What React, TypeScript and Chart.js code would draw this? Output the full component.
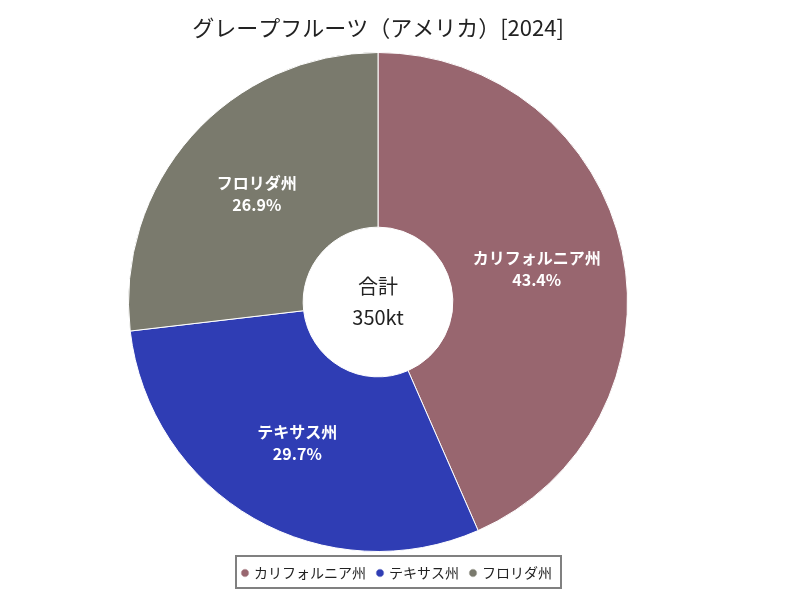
import React, { useEffect, useRef } from "react";
import { Chart, registerables } from "chart.js";

Chart.register(...registerables);

const chartTitle = "グレープフルーツ（アメリカ）[2024]";
const categories = ["カリフォルニア州", "テキサス州", "フロリダ州"];
const values = [152, 104, 94];
const colors = ["#98666F", "#2F3DB4", "#7A7A6D"];
const centerLabel = "合計";
const centerValue = "350kt";

const FONT = '"Noto Sans CJK JP", "Noto Sans", sans-serif';

export default function App() {
  const ref = useRef<HTMLCanvasElement | null>(null);

  useEffect(() => {
    if (!ref.current) return;

    const layoutPlugin = {
      id: "legendShift",
      afterLayout(chart: any) {
        const lg = chart.legend;
        if (!lg) return;
        lg.left += 19.5;
        lg.right += 19.5;
        lg.top += 2;
        lg.bottom += 2;
      },
    };

    const labelPlugin = {
      id: "sliceLabels",
      afterDatasetsDraw(chart: any) {
        const ctx = chart.ctx;
        const meta = chart.getDatasetMeta(0);
        const total = values.reduce((a, b) => a + b, 0);
        ctx.save();
        ctx.fillStyle = "#ffffff";
        ctx.textAlign = "center";
        ctx.textBaseline = "middle";
        ctx.font = `bold 16px ${FONT}`;
        meta.data.forEach((arc: any, i: number) => {
          const p = arc.tooltipPosition(false);
          const pct = ((values[i] / total) * 100).toFixed(1) + "%";
          ctx.fillText(categories[i], p.x, p.y - 11);
          ctx.fillText(pct, p.x, p.y + 11);
        });
        const cx = meta.data[0].x;
        const cy = meta.data[0].y;
        ctx.fillStyle = "#222222";
        ctx.font = `20px ${FONT}`;
        ctx.fillText(centerLabel, cx, cy - 16);
        ctx.fillText(centerValue, cx, cy + 15);
        ctx.restore();
      },
      afterDraw(chart: any) {
        const lg = chart.legend;
        if (!lg || !lg.legendHitBoxes || !lg.legendHitBoxes.length) return;
        const hb = lg.legendHitBoxes;
        const l = Math.min(...hb.map((h: any) => h.left)) - 7;
        const r = Math.max(...hb.map((h: any) => h.left + h.width)) + 9;
        const cy = hb[0].top + hb[0].height / 2;
        const ctx = chart.ctx;
        ctx.save();
        ctx.strokeStyle = "#808080";
        ctx.lineWidth = 2;
        ctx.strokeRect(l, cy - 17, r - l, 32);
        ctx.restore();
      },
    };

    const chart = new Chart(ref.current, {
      type: "doughnut",
      data: {
        labels: categories,
        datasets: [
          {
            data: values,
            backgroundColor: colors,
            borderColor: "#ffffff",
            borderWidth: 1,
          },
        ],
      },
      options: {
        responsive: false,
        animation: false,
        cutout: "30%",
        layout: { padding: { left: 0, right: 44, top: 0, bottom: 12 } },
        plugins: {
          title: {
            display: true,
            text: chartTitle,
            color: "#222222",
            font: { size: 22, family: FONT, weight: "normal" },
            padding: { top: 14, bottom: 11.6 },
          },
          legend: {
            position: "bottom",
            labels: {
              usePointStyle: true,
              pointStyle: "circle",
              boxWidth: 4,
              boxHeight: 6,
              padding: 12,
              color: "#222222",
              font: { size: 14, family: FONT },
            },
          },
          tooltip: { enabled: false },
        },
      },
      plugins: [layoutPlugin, labelPlugin],
    } as any);

    return () => chart.destroy();
  }, []);

  return (
    <div style={{ position: "absolute", left: 0, top: 0, width: 800, height: 600, background: "#fff" }}>
      <canvas ref={ref} width={800} height={600} style={{ width: 800, height: 600, display: "block" }} />
    </div>
  );
}
